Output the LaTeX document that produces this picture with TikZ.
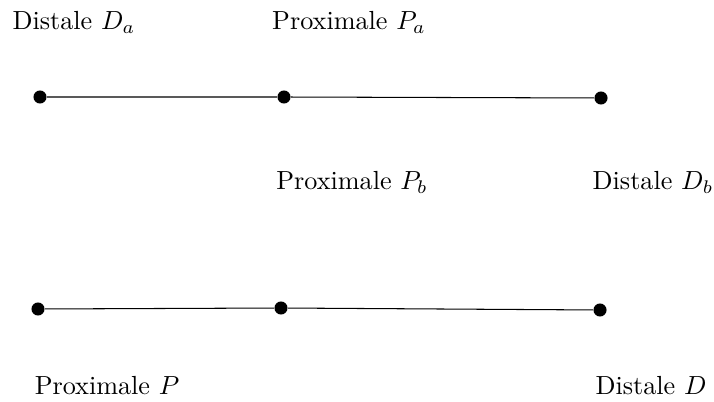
\documentclass[tikz,border=0pt]{standalone}
\begin{document}
\begin{tikzpicture}[x=0.382pt,y=-0.382pt,
  dot/.style={circle,fill=black,inner sep=0pt,minimum size=5pt},
  lbl/.style={inner sep=0pt,anchor=center}]
\useasboundingbox (0,0) rectangle (714,402);
\node[dot] (a1) at (40,97) {};
\node[dot] (a2) at (284,97) {};
\node[dot] (a3) at (601,98) {};
\node[dot] (b1) at (38,309) {};
\node[dot] (b2) at (281,308) {};
\node[dot] (b3) at (600,310) {};
\draw[line width=0.4pt] (a1) -- (a2) -- (a3);
\draw[line width=0.4pt] (b1) -- (b2) -- (b3);
\node[lbl] (la1) at (74,22) {Distale $D_a$};
\node[lbl] (la2) at (349,22) {Proximale $P_a$};
\node[lbl] (lb2) at (352,182) {Proximale $P_b$};
\node[lbl] (lb3) at (653,182) {Distale $D_b$};
\node[lbl] (lc1) at (107,386) {Proximale $P$};
\node[lbl] (lc3) at (651,386) {Distale $D$};
\end{tikzpicture}
\end{document}
